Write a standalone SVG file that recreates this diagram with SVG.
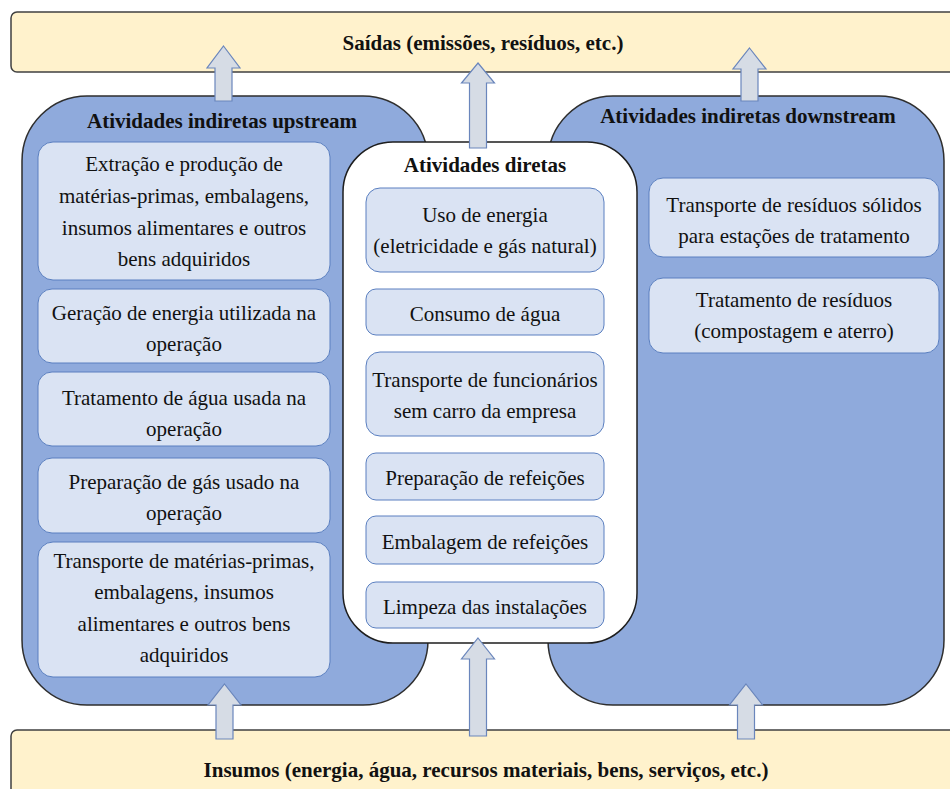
<svg xmlns="http://www.w3.org/2000/svg" width="950" height="789" viewBox="0 0 950 789" font-family="Liberation Serif, Times New Roman, serif">
<style>
.bar{fill:#FFF2CC;stroke:#404040;stroke-width:1.5}
.cont{fill:#8FAADC;stroke:#2E2E2E;stroke-width:1.5}
.direct{fill:#FFFFFF;stroke:#1E1E1E;stroke-width:1.5}
.box{fill:#DAE3F3;stroke:#5A7FC0;stroke-width:1}
.arrow{fill:#D6DCE5;stroke:#6A86BC;stroke-width:1.2}
text{font-size:21px;fill:#111;text-anchor:middle}
.t{font-weight:bold}
</style>
<rect width="950" height="789" fill="#FFFFFF"/>
<g id="saidas">
<rect class="bar" x="11" y="12" width="950" height="60" rx="6"/>
<text class="t" x="483" y="50">Saídas (emissões, resíduos, etc.)</text>
</g>
<g id="insumos">
<rect class="bar" x="11" y="730" width="950" height="70" rx="6"/>
<text class="t" x="486" y="777">Insumos (energia, água, recursos materiais, bens, serviços, etc.)</text>
</g>
<g id="upstream">
<rect class="cont" x="22" y="96" width="406" height="609" rx="65"/>
<text class="t" x="222" y="128">Atividades indiretas upstream</text>
</g>
<g id="downstream">
<rect class="cont" x="548" y="96" width="396" height="609" rx="65"/>
<text class="t" x="748" y="123">Atividades indiretas downstream</text>
</g>
<g id="up1">
<rect class="box" x="38" y="142" width="292" height="138" rx="15"/>
<text x="184" y="171">Extração e produção de</text>
<text x="184" y="203">matérias-primas, embalagens,</text>
<text x="184" y="235">insumos alimentares e outros</text>
<text x="184" y="266">bens adquiridos</text>
</g>
<g id="up2">
<rect class="box" x="38" y="289" width="292" height="74" rx="14"/>
<text x="184" y="320">Geração de energia utilizada na</text>
<text x="184" y="351">operação</text>
</g>
<g id="up3">
<rect class="box" x="38" y="372" width="292" height="74" rx="14"/>
<text x="184" y="405">Tratamento de água usada na</text>
<text x="184" y="436">operação</text>
</g>
<g id="up4">
<rect class="box" x="38" y="458" width="292" height="75" rx="14"/>
<text x="184" y="489">Preparação de gás usado na</text>
<text x="184" y="520">operação</text>
</g>
<g id="up5">
<rect class="box" x="38" y="542" width="292" height="135" rx="15"/>
<text x="184" y="568">Transporte de matérias-primas,</text>
<text x="184" y="599">embalagens, insumos</text>
<text x="184" y="631">alimentares e outros bens</text>
<text x="184" y="662">adquiridos</text>
</g>
<g id="diretas">
<rect class="direct" x="343" y="142" width="294" height="501" rx="50"/>
<text class="t" x="485" y="172">Atividades diretas</text>
</g>
<g id="d1">
<rect class="box" x="366" y="188" width="238" height="84" rx="14"/>
<text x="485" y="222">Uso de energia</text>
<text x="485" y="253">(eletricidade e gás natural)</text>
</g>
<g id="d2">
<rect class="box" x="366" y="289" width="238" height="46" rx="10"/>
<text x="485" y="321">Consumo de água</text>
</g>
<g id="d3">
<rect class="box" x="366" y="352" width="238" height="84" rx="14"/>
<text x="485" y="387">Transporte de funcionários</text>
<text x="485" y="418">sem carro da empresa</text>
</g>
<g id="d4">
<rect class="box" x="366" y="453" width="238" height="47" rx="10"/>
<text x="485" y="485">Preparação de refeições</text>
</g>
<g id="d5">
<rect class="box" x="366" y="516" width="238" height="48" rx="10"/>
<text x="485" y="549">Embalagem de refeições</text>
</g>
<g id="d6">
<rect class="box" x="366" y="582" width="238" height="46" rx="10"/>
<text x="485" y="614">Limpeza das instalações</text>
</g>
<g id="down1">
<rect class="box" x="649" y="178" width="290" height="79" rx="14"/>
<text x="794" y="212">Transporte de resíduos sólidos</text>
<text x="794" y="243">para estações de tratamento</text>
</g>
<g id="down2">
<rect class="box" x="649" y="278" width="290" height="75" rx="14"/>
<text x="794" y="307">Tratamento de resíduos</text>
<text x="794" y="338">(compostagem e aterro)</text>
</g>
<g id="connectors">
<polygon class="arrow" points="223.5,46 240,68 232,68 232,101 215,101 215,68 207,68"/>
<polygon class="arrow" points="478,63 494.5,83 486.5,83 486.5,148 469.5,148 469.5,83 461.5,83"/>
<polygon class="arrow" points="749.5,48 766,69 758,69 758,101 741,101 741,69 733,69"/>
<polygon class="arrow" points="224.5,684 241,705 233,705 233,739 216,739 216,705 208,705"/>
<polygon class="arrow" points="478,638 494.5,659 486.5,659 486.5,736 469.5,736 469.5,659 461.5,659"/>
<polygon class="arrow" points="746,684 762.5,705 754.5,705 754.5,739 737.5,739 737.5,705 729.5,705"/>
</g>
</svg>
